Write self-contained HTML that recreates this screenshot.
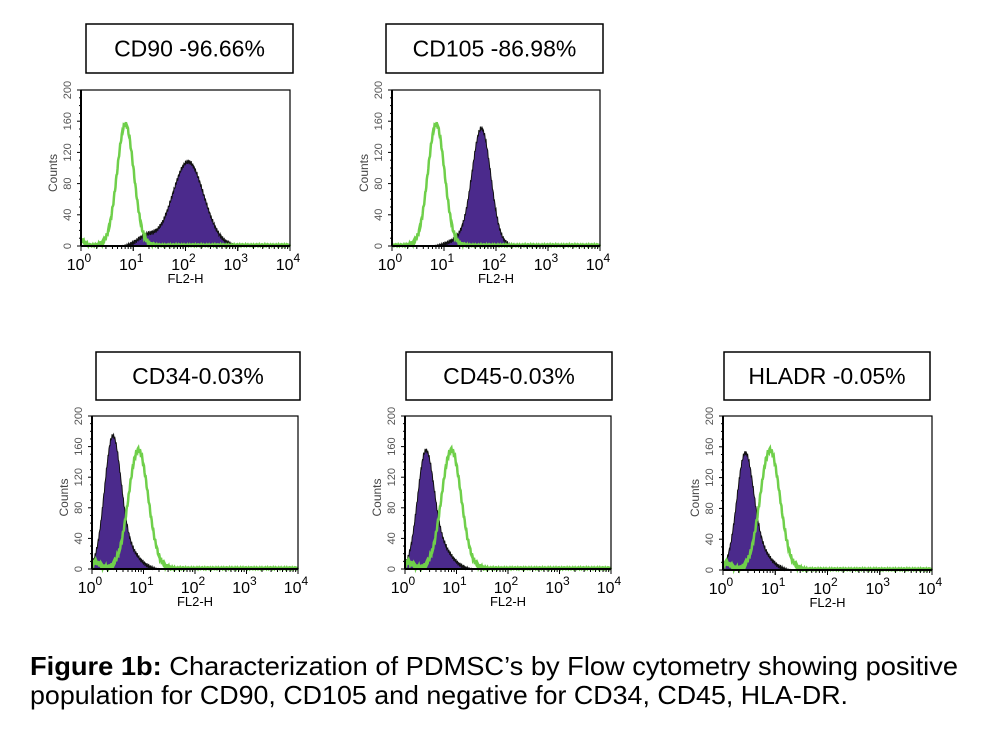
<!DOCTYPE html>
<html><head><meta charset="utf-8"><style>
html,body{margin:0;padding:0;background:#fff;width:987px;height:733px;overflow:hidden}
svg{display:block}
</style></head><body>
<svg id="s" width="987" height="733" xmlns="http://www.w3.org/2000/svg" font-family="Liberation Sans, Arial, sans-serif">
<text x="30" y="675" font-size="26" textLength="928" lengthAdjust="spacingAndGlyphs"><tspan font-weight="bold">Figure 1b:</tspan> Characterization of PDMSC’s by Flow cytometry showing positive</text>
<text x="30" y="704" font-size="26" textLength="818" lengthAdjust="spacingAndGlyphs">population for CD90, CD105 and negative for CD34, CD45, HLA-DR.</text>
</svg>
<script>
var s=document.getElementById('s'),NS='http://www.w3.org/2000/svg';
function el(t,a,txt){var e=document.createElementNS(NS,t);for(var k in a)e.setAttribute(k,a[k]);if(txt!=null)e.textContent=txt;s.appendChild(e);return e;}
function g(x,m,sd){return Math.exp(-0.5*Math.pow((x-m)/sd,2));}
var panels=[
 {tb:[86,24,207,49],title:'CD90 -96.66%',px:81,py:90,pw:209,ph:156,
  pur:function(x){return 108*g(x,2.05,0.3)+12*g(x,1.25,0.17)},gr:function(x){return 155*g(x,0.85,0.16)+6*g(x,0.02,0.05)}},
 {tb:[386,24,217,49],title:'CD105 -86.98%',px:392,py:90,pw:208,ph:156,
  pur:function(x){return 150*g(x,1.72,0.18)+8*g(x,1.3,0.2)},gr:function(x){return 155*g(x,0.85,0.16)}},
 {tb:[96,352,204,48],title:'CD34-0.03%',px:92,py:416,pw:206,ph:153,
  pur:function(x){return 168*g(x,0.4,0.16)+22*g(x,0.72,0.2)},gr:function(x){return 155*g(x,0.9,0.19)+8*g(x,0.05,0.1)}},
 {tb:[406,352,206,48],title:'CD45-0.03%',px:405,py:416,pw:206,ph:153,
  pur:function(x){return 148*g(x,0.4,0.16)+25*g(x,0.72,0.2)},gr:function(x){return 155*g(x,0.9,0.19)+8*g(x,0.05,0.1)}},
 {tb:[724,352,206,48],title:'HLADR -0.05%',px:723,py:416,pw:209,ph:154,
  pur:function(x){return 145*g(x,0.42,0.16)+22*g(x,0.72,0.2)},gr:function(x){return 155*g(x,0.9,0.19)+8*g(x,0.05,0.1)}}
];
panels.forEach(function(p){
 var t=p.tb;
 el('rect',{x:t[0],y:t[1],width:t[2],height:t[3],fill:'#fff',stroke:'#000','stroke-width':1.5});
 el('text',{x:t[0]+t[2]/2,y:t[1]+t[3]/2+8,'font-size':23,'text-anchor':'middle'},p.title);
 var X=function(v){return p.px+v/4*p.pw},Y=function(c){return p.py+p.ph-c/200*p.ph};
 var d='M'+X(0)+','+Y(0),dg='';
 for(var i=0;i<=400;i++){var v=i/100,c=p.pur(v);c+=Math.sin(i*2.3)*Math.min(c,3);d+=' L'+X(v).toFixed(1)+','+Y(Math.max(0,c)).toFixed(1);
  var c2=p.gr(v)+1;c2+=Math.sin(i*1.7)*Math.min(c2,3);dg+=(i?' L':'M')+X(v).toFixed(1)+','+Y(Math.max(0,c2)).toFixed(1);}
 d+=' L'+X(4)+','+Y(0)+'Z';
 el('path',{d:d,fill:'#4b2a8c',stroke:'#111','stroke-width':1});
 el('path',{d:dg,fill:'none',stroke:'#6fcf4a','stroke-width':2.5});
 el('rect',{x:p.px,y:p.py,width:p.pw,height:p.ph,fill:'none',stroke:'#000','stroke-width':1.2});
 el('line',{x1:p.px,y1:p.py,x2:p.px,y2:p.py+p.ph,stroke:'#000','stroke-width':2});
 el('line',{x1:p.px,y1:p.py+p.ph,x2:p.px+p.pw,y2:p.py+p.ph,stroke:'#000','stroke-width':2});
 for(var dec=0;dec<4;dec++)for(var k=1;k<=10;k++){var xx=X(dec+Math.log10(k));el('line',{x1:xx,y1:p.py+p.ph,x2:xx,y2:p.py+p.ph+(k==1||k==10?5:3),stroke:'#000','stroke-width':1});}
 for(var c=0;c<=200;c+=10){el('line',{x1:p.px-(c%40?2:4),y1:Y(c),x2:p.px,y2:Y(c),stroke:'#000','stroke-width':1});}
 for(var c=0;c<=200;c+=40){var tx=p.px-10,ty=Y(c);el('text',{x:tx,y:ty,'font-size':11,fill:'#555','text-anchor':'middle',transform:'rotate(-90 '+tx+' '+ty+')'},''+c);}
 var lx=p.px-24,ly=p.py+p.ph/2+5;el('text',{x:lx,y:ly,'font-size':12,fill:'#444','text-anchor':'middle',transform:'rotate(-90 '+lx+' '+ly+')'},'Counts');
 for(var e=0;e<=4;e++){var tt=el('text',{x:X(e)-2,y:p.py+p.ph+24,'font-size':16,'text-anchor':'middle'},'10');var sp=document.createElementNS(NS,'tspan');sp.setAttribute('dy','-8');sp.setAttribute('font-size','12');sp.textContent=e;tt.appendChild(sp);}
 el('text',{x:X(2),y:p.py+p.ph+37,'font-size':13,'text-anchor':'middle'},'FL2-H');
});
</script>
</body></html>
